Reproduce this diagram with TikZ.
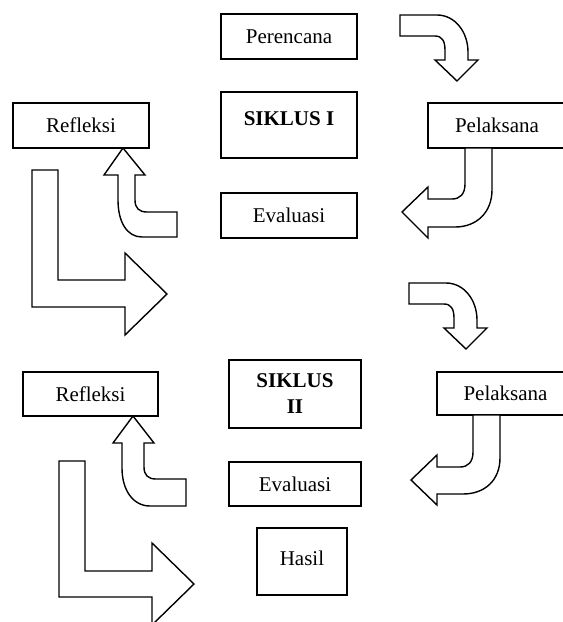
\documentclass[tikz,border=0pt]{standalone}
\usepackage{fontspec}
\setmainfont{Liberation Serif}
\begin{document}
\begin{tikzpicture}[x=1pt, y=-1pt,
	kotak/.style={draw, line width=1.6pt, inner sep=0pt, align=center, font=\fontsize{21}{26}\selectfont},
	panah/.style={draw, line width=1.4pt, line join=miter, fill=white}]

		\useasboundingbox (0,0) rectangle (563,622);

		% make the boxes of siklus I
		\node[kotak, minimum width=136pt, minimum height=45pt] (perencanaA) at (289,36.5) {Perencana};
		\node[kotak, minimum width=136pt, minimum height=66pt, text height=15pt, text depth=15pt] (siklusA) at (289,125) {\bfseries SIKLUS I};
		\node[kotak, minimum width=136pt, minimum height=45pt] (evaluasiA) at (289,215.5) {Evaluasi};
		\node[kotak, minimum width=136pt, minimum height=45pt] (refleksiA) at (81,125.5) {Refleksi};
		\node[kotak, minimum width=138pt, minimum height=45pt] (pelaksanaA) at (497,125.5) {Pelaksana};

		% make the boxes of siklus II
		\node[kotak, minimum width=132pt, minimum height=68pt] (siklusB) at (295,394) {\bfseries SIKLUS\\\bfseries II};
		\node[kotak, minimum width=132pt, minimum height=44pt] (evaluasiB) at (295,484) {Evaluasi};
		\node[kotak, minimum width=90pt, minimum height=67pt, text height=15pt, text depth=8pt] (hasil) at (302,561.5) {Hasil};
		\node[kotak, minimum width=135pt, minimum height=44pt] (refleksiB) at (90.5,394) {Refleksi};
		\node[kotak, minimum width=137pt, minimum height=43pt] (pelaksanaB) at (505.5,393.5) {Pelaksana};

		% make the curved arrows going down on the right
		\draw[panah] (400,15) -- (437,15) .. controls (455,15) and (468,32) .. (468,52) -- (468,60) -- (478,60) -- (457,81) -- (435,60) -- (445,60) -- (445,50) .. controls (445,41) and (442,36) .. (435,36) -- (400,36) -- cycle;
		\draw[panah] (409,283) -- (446,283) .. controls (464,283) and (477,300) .. (477,320) -- (477,328) -- (487,328) -- (466,349) -- (444,328) -- (454,328) -- (454,318) .. controls (454,309) and (451,304) .. (444,304) -- (409,304) -- cycle;

		% make the arrows from pelaksana to evaluasi
		\draw[panah] (465,148) -- (492,148) -- (492,190) .. controls (492,212) and (477,227) .. (455,227) -- (428,227) -- (428,238) -- (402,212) -- (428,187) -- (428,199) -- (452,199) .. controls (460,199) and (465,194) .. (465,184) -- cycle;
		\draw[panah] (473,415) -- (500,415) -- (500,458) .. controls (500,480) and (485,494) .. (463,494) -- (437,494) -- (437,505) -- (411,480) -- (437,455) -- (437,467) -- (460,467) .. controls (468,467) and (473,462) .. (473,452) -- cycle;

		% make the arrows going up to refleksi
		\draw[panah] (123,148) -- (145,175) -- (135,175) -- (135,200) .. controls (135,208) and (139,212) .. (147,212) -- (177,212) -- (177,237) -- (142,237) .. controls (127,237) and (118,222) .. (118,200) -- (118,175) -- (104,175) -- cycle;
		\draw[panah] (133,416) -- (154,443) -- (144,443) -- (144,467) .. controls (144,475) and (148,479) .. (156,479) -- (186,479) -- (186,506) -- (150,506) .. controls (133,506) and (122,490) .. (122,468) -- (122,443) -- (113,443) -- cycle;

		% make the big L arrows
		\draw[panah] (32,170) -- (58,170) -- (58,280) -- (125,280) -- (125,253) -- (167,294) -- (125,335) -- (125,307) -- (32,307) -- cycle;
		\draw[panah] (59,461) -- (85,461) -- (85,571) -- (152,571) -- (152,543) -- (194,584) -- (152,625) -- (152,597) -- (59,597) -- cycle;

\end{tikzpicture}
\end{document}
